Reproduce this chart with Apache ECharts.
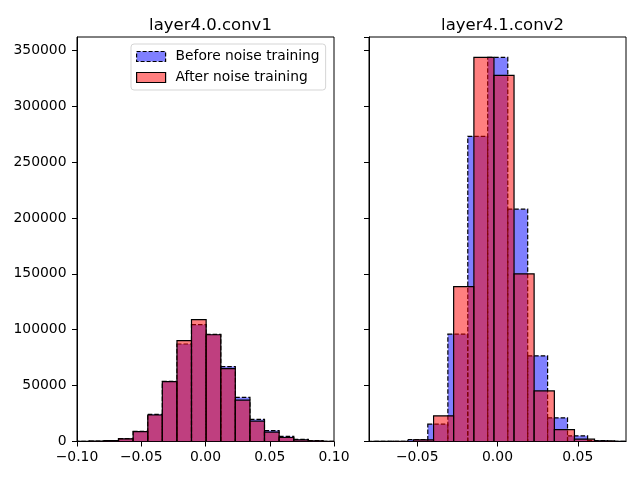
<!DOCTYPE html>
<html>
<head>
<meta charset="utf-8">
<script src="https://cdn.jsdelivr.net/npm/echarts@6/dist/echarts.min.js"></script>
<style>html,body{margin:0;padding:0;background:#fff}#c{width:640px;height:480px}</style>
</head>
<body>
<div id="c"></div>
<script>
// ---- data ----
const titles = ['layer4.0.conv1', 'layer4.1.conv2'];
const seriesNames = ['Before noise training', 'After noise training'];

const leftEdges = [-0.1017, -0.0904, -0.0790, -0.0677, -0.0563, -0.0449, -0.0336, -0.0222, -0.0109, 0.0005,
                   0.0119, 0.0232, 0.0346, 0.0459, 0.0573, 0.0687, 0.0800, 0.0914, 0.1027];
const leftBefore = [100, 300, 900, 2600, 9000, 24300, 53800, 87200, 104500, 95800, 67000, 39400, 19700, 9800, 4500, 1900, 700, 200];
const leftAfter  = [100, 300, 800, 2400, 8800, 23700, 53600, 90200, 109000, 95500, 65200, 37000, 18200, 8300, 3600, 1400, 600, 200];

const rightBeforeEdges = [-0.0807, -0.0682, -0.0558, -0.0434, -0.0309, -0.0185, -0.0061, 0.0064, 0.0188, 0.0312, 0.0436, 0.0561, 0.0685, 0.0809];
const rightBefore = [50, 200, 1800, 15500, 96000, 273000, 343500, 207800, 76600, 21200, 5100, 900, 200];
const rightAfterEdges = [-0.0773, -0.0648, -0.0523, -0.0398, -0.0273, -0.0147, -0.0022, 0.0103, 0.0228, 0.0354, 0.0479, 0.0604, 0.0729, 0.0855];
const rightAfter = [50, 200, 1500, 23000, 138500, 343500, 327500, 150000, 45200, 10700, 2100, 500, 100];

const yMax = 361800;
const leftXTicks = [-0.1, -0.05, 0, 0.05, 0.1];
const rightXTicks = [-0.05, 0, 0.05];

// ---- build ----
function bins(edges, counts) {
  return counts.map((c, i) => [edges[i], edges[i + 1], c]);
}
const FONT = 'DejaVu Sans';
const blueFill = 'rgba(0,0,255,0.5)';
const redFill = 'rgba(255,0,0,0.5)';

function makeRender(fill, dashed) {
  return function (params, api) {
    const x0 = api.value(0), x1 = api.value(1), h = api.value(2);
    const p0 = api.coord([x0, 0]);
    const p1 = api.coord([x1, h]);
    return {
      type: 'rect',
      shape: { x: p0[0], y: p1[1], width: p1[0] - p0[0], height: p0[1] - p1[1] },
      style: { fill: fill, stroke: '#000', lineWidth: 1.2, lineDash: dashed ? [4.5, 2] : null }
    };
  };
}
function fmt(v) {
  if (Math.abs(v) < 1e-9) return '0.00';
  return (v < 0 ? '\u2212' : '') + Math.abs(v).toFixed(2);
}
function fmtY(v) { return String(Math.round(v)); }

const axisCommon = {
  axisLine: { show: true, onZero: false, lineStyle: { color: '#000', width: 1 } },
  axisTick: { show: true, inside: false, length: 5, lineStyle: { color: '#000', width: 1 } },
  splitLine: { show: false },
  axisLabel: { color: '#000', fontFamily: FONT, fontSize: 13.9, margin: 9 }
};

const option = {
  animation: false,
  backgroundColor: '#fff',
  title: [
    { text: titles[0], left: 205.5, top: 12, textAlign: 'center',
      textStyle: { fontFamily: FONT, fontSize: 16.5, fontWeight: 'normal', color: '#000' } },
    { text: titles[1], left: 497.5, top: 12, textAlign: 'center',
      textStyle: { fontFamily: FONT, fontSize: 16.5, fontWeight: 'normal', color: '#000' } }
  ],
  legend: {
    orient: 'vertical',
    left: 131, top: 44,
    padding: [5, 6, 5, 5],
    itemGap: 6,
    itemWidth: 29, itemHeight: 10,
    backgroundColor: 'rgba(255,255,255,0.8)',
    borderColor: '#d5d5d5', borderWidth: 1, borderRadius: 3,
    textStyle: { fontFamily: FONT, fontSize: 13.8, color: '#000', padding: [0, 0, 0, 5], lineHeight: 15 },
    data: [
      { name: seriesNames[0], icon: 'rect',
        itemStyle: { color: blueFill, borderColor: '#000', borderWidth: 1.2, borderType: [4, 2] } },
      { name: seriesNames[1], icon: 'rect',
        itemStyle: { color: redFill, borderColor: '#000', borderWidth: 1.2, borderType: 'solid' } }
    ]
  },
  grid: [
    { left: 77, right: 306, top: 37, bottom: 38.5, show: true, borderColor: '#000', borderWidth: 1, containLabel: false },
    { left: 369, right: 14, top: 37, bottom: 38.5, show: true, borderColor: '#000', borderWidth: 1, containLabel: false }
  ],
  xAxis: [
    Object.assign({}, axisCommon, {
      type: 'value', gridIndex: 0, min: -0.1, max: 0.1, interval: 0.05,
      axisLabel: Object.assign({}, axisCommon.axisLabel, { formatter: fmt, customValues: leftXTicks }),
      axisTick: Object.assign({}, axisCommon.axisTick, { customValues: leftXTicks })
    }),
    Object.assign({}, axisCommon, {
      type: 'value', gridIndex: 1, min: -0.08, max: 0.08,
      axisLabel: Object.assign({}, axisCommon.axisLabel, { formatter: fmt, customValues: rightXTicks }),
      axisTick: Object.assign({}, axisCommon.axisTick, { customValues: rightXTicks })
    })
  ],
  yAxis: [
    Object.assign({}, axisCommon, {
      type: 'value', gridIndex: 0, min: 0, max: yMax, interval: 50000,
      axisLabel: Object.assign({}, axisCommon.axisLabel, { showMaxLabel: false, formatter: fmtY, margin: 10.5 })
    }),
    Object.assign({}, axisCommon, {
      type: 'value', gridIndex: 1, min: 0, max: yMax, interval: 50000,
      axisLabel: { show: false }
    })
  ],
  series: [
    { name: seriesNames[0], type: 'custom', xAxisIndex: 0, yAxisIndex: 0, clip: true,
      itemStyle: { color: blueFill }, renderItem: makeRender(blueFill, true),
      encode: { x: [0, 1], y: 2 }, data: bins(leftEdges, leftBefore), z: 2 },
    { name: seriesNames[0], type: 'custom', xAxisIndex: 1, yAxisIndex: 1, clip: true,
      itemStyle: { color: blueFill }, renderItem: makeRender(blueFill, true),
      encode: { x: [0, 1], y: 2 }, data: bins(rightBeforeEdges, rightBefore), z: 2 },
    { name: seriesNames[1], type: 'custom', xAxisIndex: 0, yAxisIndex: 0, clip: true,
      itemStyle: { color: redFill }, renderItem: makeRender(redFill, false),
      encode: { x: [0, 1], y: 2 }, data: bins(leftEdges, leftAfter), z: 3 },
    { name: seriesNames[1], type: 'custom', xAxisIndex: 1, yAxisIndex: 1, clip: true,
      itemStyle: { color: redFill }, renderItem: makeRender(redFill, false),
      encode: { x: [0, 1], y: 2 }, data: bins(rightAfterEdges, rightAfter), z: 3 }
  ]
};
const chart = echarts.init(document.getElementById('c'), null, { renderer: 'canvas' });
chart.setOption(option);
</script>
</body>
</html>
